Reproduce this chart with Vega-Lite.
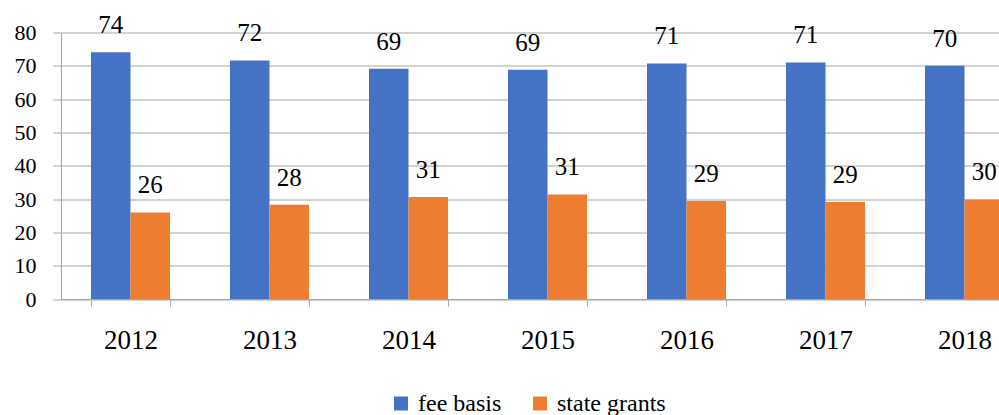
{
  "$schema": "https://vega.github.io/schema/vega-lite/v6.json",
  "width": 938,
  "height": 266.5,
  "autosize": {"type": "none"},
  "padding": {"left": 61, "top": 32.5, "right": 0, "bottom": 116},
  "background": "white",
  "config": {
    "view": {"stroke": null},
    "font": "Liberation Serif"
  },
  "data": {
    "values": [
      {"year": "2012", "series": "fee basis", "value": 74.1},
      {"year": "2012", "series": "state grants", "value": 26.0},
      {"year": "2013", "series": "fee basis", "value": 71.6},
      {"year": "2013", "series": "state grants", "value": 28.3},
      {"year": "2014", "series": "fee basis", "value": 69.1},
      {"year": "2014", "series": "state grants", "value": 30.6},
      {"year": "2015", "series": "fee basis", "value": 68.8},
      {"year": "2015", "series": "state grants", "value": 31.4},
      {"year": "2016", "series": "fee basis", "value": 70.7},
      {"year": "2016", "series": "state grants", "value": 29.4},
      {"year": "2017", "series": "fee basis", "value": 71.0},
      {"year": "2017", "series": "state grants", "value": 29.1},
      {"year": "2018", "series": "fee basis", "value": 70.0},
      {"year": "2018", "series": "state grants", "value": 29.9}
    ]
  },
  "encoding": {
    "x": {
      "field": "year",
      "type": "nominal",
      "scale": {"range": [0, 973], "paddingInner": 0.4317, "paddingOuter": 0.2158},
      "axis": {
        "title": null,
        "labelAngle": 0,
        "labelFont": "Liberation Serif",
        "labelFontSize": 27,
        "labelColor": "#000000",
        "labelBaseline": "alphabetic",
        "labelPadding": 42,
        "tickBand": "extent",
        "tickSize": 7,
        "tickColor": "#A6A6A6",
        "domainColor": "#A6A6A6",
        "grid": false
      }
    },
    "xOffset": {"field": "series", "type": "nominal", "scale": {"paddingInner": 0, "paddingOuter": 0}},
    "y": {
      "field": "value",
      "type": "quantitative",
      "scale": {"domain": [0, 80], "nice": false},
      "axis": {
        "title": null,
        "values": [0, 10, 20, 30, 40, 50, 60, 70, 80],
        "labelFont": "Liberation Serif",
        "labelFontSize": 22,
        "labelColor": "#000000",
        "labelPadding": 17,
        "tickSize": 8,
        "tickColor": "#A6A6A6",
        "domainColor": "#A6A6A6",
        "gridColor": "#A6A6A6",
        "grid": true
      }
    }
  },
  "layer": [
    {
      "mark": {"type": "bar"},
      "encoding": {
        "color": {
          "field": "series",
          "type": "nominal",
          "scale": {"domain": ["fee basis", "state grants"], "range": ["#4472C4", "#ED7D31"]},
          "legend": {
            "title": null,
            "orient": "none",
            "direction": "horizontal",
            "legendX": 328,
            "legendY": 359,
            "padding": 0,
            "symbolType": "square",
            "symbolSize": 196,
            "symbolStrokeWidth": 0,
            "labelFont": "Liberation Serif",
            "labelFontSize": 24,
            "labelColor": "#000000",
            "labelOffset": 5,
            "columnPadding": 26
          }
        }
      }
    },
    {
      "mark": {"type": "text", "baseline": "alphabetic", "dy": -19, "font": "Liberation Serif", "fontSize": 25, "color": "#000000"},
      "encoding": {
        "text": {"field": "value", "type": "quantitative", "format": ".0f"}
      }
    }
  ]
}
